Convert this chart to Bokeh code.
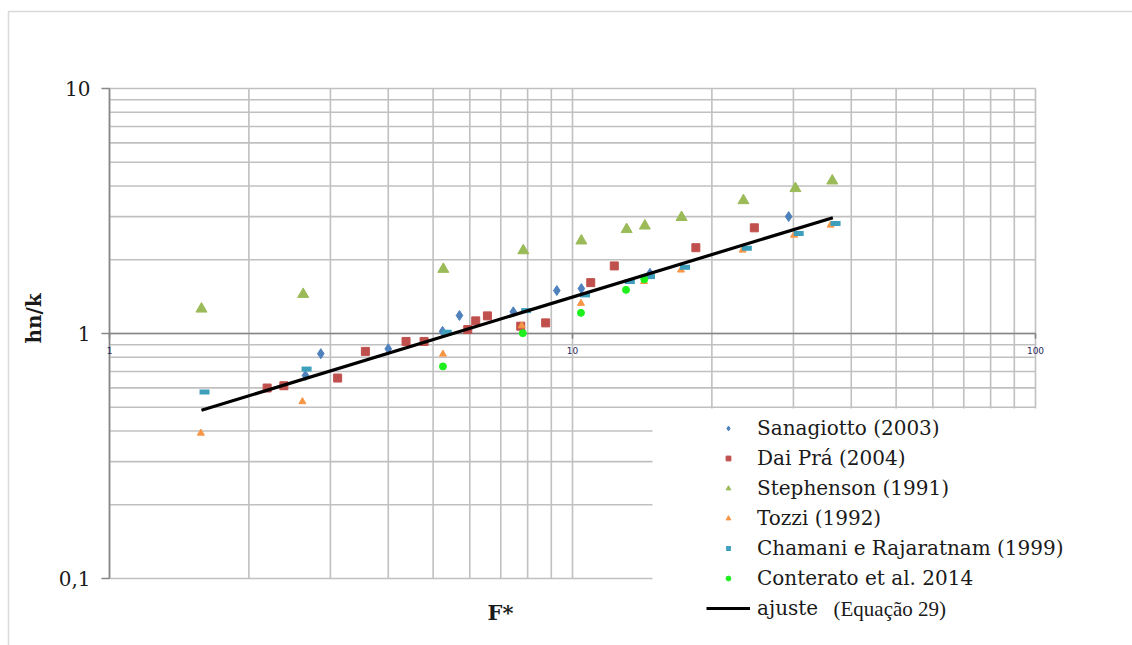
import math
from bokeh.plotting import figure
from bokeh.models import (Label, Legend, LegendItem, BoxAnnotation, Range1d)
from bokeh.core.properties import value
from bokeh.embed import file_html
from bokeh.resources import INLINE

# ---- data: F* (x) and hn/k (y) for each source ----
sanagiotto_f = [2.65, 2.86, 4.0, 5.24, 5.70, 7.45, 9.25, 10.45, 14.7, 29.3]
sanagiotto_h = [0.674, 0.827, 0.866, 1.02, 1.184, 1.226, 1.497, 1.525, 1.76, 3.0]

daipra_f = [2.19, 2.38, 3.11, 3.57, 4.37, 4.78, 5.94, 6.18, 6.55, 7.73, 8.75, 10.95, 12.31, 18.47, 24.7]
daipra_h = [0.599, 0.612, 0.658, 0.845, 0.928, 0.928, 1.038, 1.126, 1.18, 1.071, 1.105, 1.613, 1.887, 2.24, 2.70]

stephenson_f = [1.58, 2.62, 5.26, 7.83, 10.45, 13.09, 14.33, 17.2, 23.4, 30.3, 36.4]
stephenson_h = [1.26, 1.446, 1.83, 2.18, 2.39, 2.66, 2.75, 2.98, 3.49, 3.91, 4.20]

tozzi_f = [1.575, 2.61, 5.25, 7.77, 10.43, 14.27, 17.15, 23.3, 30.1, 36.1]
tozzi_h = [0.392, 0.527, 0.824, 1.075, 1.328, 1.63, 1.816, 2.19, 2.52, 2.77]

chamani_f = [1.604, 2.665, 5.35, 7.94, 10.64, 13.3, 14.7, 17.5, 23.8, 30.8, 37.0]
chamani_h = [0.577, 0.716, 1.012, 1.24, 1.437, 1.63, 1.707, 1.863, 2.23, 2.56, 2.815]

conterato_f = [5.25, 7.81, 10.43, 13.05, 14.29]
conterato_h = [0.734, 1.003, 1.214, 1.507, 1.664]

# fitted power law (Equação 29), end points of the drawn segment
ajuste_f = [1.58, 36.5]
ajuste_h = [0.486, 2.97]

# ---- axis ticks ----
x_major = [1, 10, 100]
x_minor = [2, 3, 4, 5, 6, 7, 8, 9, 20, 30, 40, 50, 60, 70, 80, 90]
x_tick_labels = ["1", "10", "100"]
y_major = [0.1, 1, 10]
y_minor = [0.2, 0.3, 0.4, 0.5, 0.6, 0.7, 0.8, 0.9, 2, 3, 4, 5, 6, 7, 8, 9]
y_tick_labels = ["0,1", "1", "10"]

# ---- canvas geometry (pixels) ----
W, H = 1132, 645
PLOT_L, PLOT_R = 109, 1035      # x = 1 .. 100
PLOT_T, PLOT_B = 88, 578        # y = 10 .. 0.1
XDEC = (PLOT_R - PLOT_L) / 2.0  # px per decade
YDEC = (PLOT_B - PLOT_T) / 2.0

def xshift(px):
    """multiplicative factor that moves a log-x position by px pixels"""
    return 10 ** (px / XDEC)

def yshift(px):
    return 10 ** (px / YDEC)

SERIF = "DejaVu Serif"
GRID = "#c0c0c0"
AXIS = "#868686"
TEXT = "#1a1a1a"

# the frame spans the whole canvas; the plotting area is drawn inside it
p = figure(width=W, height=H,
           x_axis_type="log", y_axis_type="log",
           x_range=Range1d(1 / xshift(PLOT_L), xshift(W - PLOT_L)),
           y_range=Range1d(0.1 / yshift(H - PLOT_B), 10 * yshift(PLOT_T)),
           x_axis_location=None, y_axis_location=None,
           output_backend="svg", toolbar_location=None,
           min_border=0, min_border_left=0, min_border_right=0,
           min_border_top=0, min_border_bottom=0)
p.outline_line_color = None
p.background_fill_color = "white"
p.border_fill_color = "white"
for g in p.grid:
    g.visible = False

# ---- grid ----
vx = x_major + x_minor
hy = y_major + y_minor
p.segment(x0=vx, y0=[y_major[0]] * len(vx), x1=vx, y1=[y_major[-1]] * len(vx),
          line_color=GRID, line_width=1.6)
p.segment(x0=[x_major[0]] * len(hy), y0=hy, x1=[x_major[-1]] * len(hy), y1=hy,
          line_color=GRID, line_width=1.6)

# ---- axes: vertical at F* = 1, horizontal at hn/k = 1 ----
p.segment(x0=[1], y0=[y_major[0]], x1=[1], y1=[y_major[-1]], line_color=AXIS, line_width=1.6)
p.segment(x0=[x_major[0]], y0=[1], x1=[x_major[-1]], y1=[1], line_color=AXIS, line_width=1.6)
p.segment(x0=[1] * 3, y0=y_major, x1=[1 / xshift(8)] * 3, y1=y_major,
          line_color=AXIS, line_width=1.6)
p.segment(x0=x_major, y0=[1] * 3, x1=x_major, y1=[1 / yshift(5)] * 3,
          line_color=AXIS, line_width=1.6)

p.text(x=[1] * 3, y=y_major, text=y_tick_labels, x_offset=-19,
       text_align="right", text_baseline="middle",
       text_font=value(SERIF), text_font_size="20px", text_color=TEXT)
p.text(x=x_major, y=[1] * 3, text=x_tick_labels, y_offset=17,
       text_align="center", text_baseline="middle",
       text_font=value("DejaVu Sans"), text_font_size="9px", text_color="#2b2b5c")

# white patch behind the legend (hides the grid there)
p.quad(left=[1 * xshift(652 - PLOT_L)], right=[100 * xshift(3)],
       bottom=[0.1 / yshift(3)], top=[1 / yshift(407 - 332)],
       fill_color="white", line_color=None)

# ---- series ----
r_san = p.scatter(sanagiotto_f, sanagiotto_h, marker="diamond", size=10,
                  fill_color="#4f81bd", line_color="#4f81bd")
r_dai = p.scatter(daipra_f, daipra_h, marker="square", size=8,
                  fill_color="#c0504d", line_color="#c0504d")
r_ste = p.scatter(stephenson_f, stephenson_h, marker="triangle", size=11,
                  fill_color="#9bbb59", line_color="#9bbb59")
r_toz = p.scatter(tozzi_f, tozzi_h, marker="triangle", size=7,
                  fill_color="#f79646", line_color="#f79646")
r_cha = p.scatter(chamani_f, chamani_h, marker="dash", size=10, line_width=5,
                  line_color="#3d9fbb", line_cap="butt")
r_con = p.scatter(conterato_f, conterato_h, marker="circle", size=7,
                  fill_color="#1ef01e", line_color="#1ef01e")
r_fit = p.line(ajuste_f, ajuste_h, line_color="black", line_width=3.2)

legend = Legend(items=[
    LegendItem(label="Sanagiotto (2003)", renderers=[r_san]),
    LegendItem(label="Dai Prá (2004)", renderers=[r_dai]),
    LegendItem(label="Stephenson (1991)", renderers=[r_ste]),
    LegendItem(label="Tozzi (1992)", renderers=[r_toz]),
    LegendItem(label="Chamani e Rajaratnam (1999)", renderers=[r_cha]),
    LegendItem(label="Conterato et al. 2014", renderers=[r_con]),
    LegendItem(label="ajuste", renderers=[r_fit]),
], location=(706, 22))
legend.background_fill_alpha = 0.0
legend.border_line_color = None
legend.padding = 5
legend.margin = 0
legend.spacing = 0
legend.glyph_width = 44
legend.glyph_height = 12
legend.label_height = 30
legend.label_standoff = 7
legend.label_text_font = SERIF
legend.label_text_font_size = "20px"
legend.label_text_color = TEXT
p.add_layout(legend)

# note next to the fitted-line legend entry
p.add_layout(Label(x=833, y=H - 608, x_units="screen", y_units="screen",
                   text="(Equação 29)", text_align="left", text_baseline="middle",
                   text_font="Liberation Serif", text_font_size="21px",
                   text_color=TEXT))

# axis titles
p.add_layout(Label(x=500, y=H - 612, x_units="screen", y_units="screen", text="F*",
                   text_align="center", text_baseline="middle", text_font=SERIF,
                   text_font_size="21px", text_font_style="bold", text_color=TEXT))
p.add_layout(Label(x=33, y=H - 318, x_units="screen", y_units="screen", text="hn/k",
                   angle=math.pi / 2, text_align="center", text_baseline="middle",
                   text_font=SERIF, text_font_size="20px", text_font_style="bold",
                   text_color=TEXT))

# outer chart border (left and top edges visible)
p.add_layout(BoxAnnotation(left=8, right=W + 50, top=H - 11, bottom=-50,
                           left_units="screen", right_units="screen",
                           top_units="screen", bottom_units="screen",
                           fill_color=None, line_color="#868686", line_width=1.5))

open("out.html", "w").write(file_html(p, INLINE))
